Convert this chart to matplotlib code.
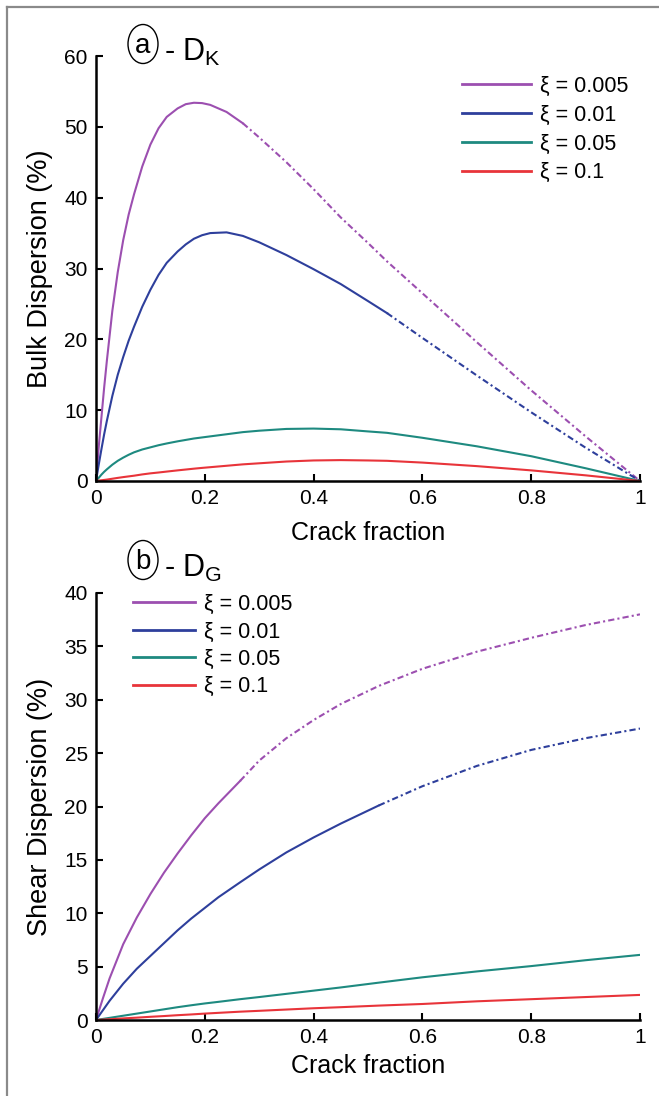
#Dispersion vs crack fraction for several xi values
#top panel: bulk (D_K), bottom panel: shear (D_G)
import matplotlib
matplotlib.use("Agg")
import matplotlib.pyplot as plt
from matplotlib.lines import Line2D
from matplotlib.patches import Ellipse
import matplotlib.ticker as ticker

plt.rcParams['font.family'] = ['Liberation Sans', 'DejaVu Sans']
plt.rcParams['mathtext.fontset'] = 'custom'
plt.rcParams['mathtext.rm'] = 'Liberation Sans'

labels = ["ξ = 0.005", "ξ = 0.01", "ξ = 0.05", "ξ = 0.1"]
colors = ["#9c4fb0", "#2e3f9c", "#1e8a80", "#e8343a"]
xtick_labels = ['0', '0.2', '0.4', '0.6', '0.8', '1']

# panel a - bulk dispersion
crack_a = [0, 0.005, 0.01, 0.015, 0.02, 0.03, 0.04, 0.05, 0.06, 0.07, 0.085, 0.1,
           0.115, 0.13, 0.15, 0.165, 0.18, 0.195, 0.21, 0.24, 0.27, 0.3, 0.35,
           0.4, 0.45, 0.5, 0.535, 0.6, 0.7, 0.8, 0.9, 1.0]
bulk_005 = [0, 4.8, 9, 13.2, 17, 24, 29.5, 34, 37.6, 40.5, 44.4, 47.5,
            49.8, 51.4, 52.6, 53.2, 53.4, 53.35, 53.1, 52.1, 50.5, 48.5, 45,
            41.2, 37.2, 33.6, 31.0, 26.5, 19.6, 12.8, 6.3, 0]
bulk_01 = [0, 2.3, 4.5, 6.6, 8.5, 12, 15, 17.5, 19.8, 21.8, 24.6, 27,
           29.1, 30.8, 32.4, 33.4, 34.2, 34.7, 35.0, 35.1, 34.6, 33.7, 31.9,
           29.9, 27.8, 25.4, 23.7, 20.2, 14.9, 9.7, 4.7, 0]
bulk_05 = [0, 0.45, 0.9, 1.3, 1.65, 2.3, 2.85, 3.3, 3.7, 4.05, 4.45, 4.75,
           5.05, 5.3, 5.6, 5.8, 6.0, 6.15, 6.3, 6.6, 6.9, 7.1, 7.35,
           7.4, 7.3, 7.0, 6.8, 6.1, 4.9, 3.5, 1.8, 0]
bulk_1 = [0, 0.05, 0.1, 0.15, 0.2, 0.32, 0.44, 0.55, 0.65, 0.75, 0.93, 1.08,
          1.2, 1.33, 1.5, 1.62, 1.74, 1.85, 1.95, 2.15, 2.35, 2.5, 2.75,
          2.9, 2.95, 2.9, 2.85, 2.6, 2.1, 1.5, 0.8, 0]
# where the solid part stops (None = solid everywhere)
split_a = [0.27, 0.535, None, None]

# panel b - shear dispersion
crack_b = [0, 0.0125, 0.025, 0.05, 0.075, 0.1, 0.125, 0.15, 0.175, 0.2, 0.225,
           0.265, 0.3, 0.35, 0.4, 0.45, 0.52, 0.6, 0.7, 0.8, 0.9, 1.0]
shear_005 = [0, 2.0, 3.9, 7.1, 9.6, 11.8, 13.8, 15.6, 17.3, 18.9, 20.3,
             22.4, 24.3, 26.4, 28.1, 29.6, 31.3, 32.9, 34.5, 35.8, 37.0, 38.0]
shear_01 = [0, 0.9, 1.8, 3.4, 4.8, 6.0, 7.2, 8.4, 9.5, 10.5, 11.5,
            12.9, 14.1, 15.7, 17.1, 18.4, 20.1, 21.9, 23.8, 25.3, 26.4, 27.3]
shear_05 = [0, 0.1, 0.2, 0.4, 0.6, 0.8, 1.0, 1.2, 1.38, 1.55, 1.7,
            1.95, 2.15, 2.45, 2.75, 3.05, 3.5, 4.0, 4.55, 5.05, 5.6, 6.1]
shear_1 = [0, 0.035, 0.07, 0.15, 0.22, 0.3, 0.37, 0.45, 0.52, 0.6, 0.67,
           0.78, 0.86, 0.98, 1.1, 1.2, 1.35, 1.5, 1.75, 1.95, 2.15, 2.35]
split_b = [0.265, 0.52, None, None]

W, H = 659, 1096
fig = plt.figure(figsize=(W / 100, H / 100), dpi=100)

ax1 = fig.add_axes([96 / W, 1 - 481 / H, 544 / W, 425 / H])
ax2 = fig.add_axes([96 / W, 1 - 1020 / H, 544 / W, 427 / H])


def draw(ax, x, series, splits):
    for y, c, s in zip(series, colors, splits):
        if s is None:
            ax.plot(x, y, color=c, lw=1.5)
        else:
            i = x.index(s)
            ax.plot(x[:i + 1], y[:i + 1], color=c, lw=1.5)
            ax.plot(x[i:], y[i:], color=c, lw=1.5, linestyle=(0, (3, 1.5, 1, 1.5)))


draw(ax1, crack_a, [bulk_005, bulk_01, bulk_05, bulk_1], split_a)
draw(ax2, crack_b, [shear_005, shear_01, shear_05, shear_1], split_b)

for ax, ymax, ystep, ylab, lpad in [(ax1, 60, 10, "Bulk Dispersion (%)", 9),
                                    (ax2, 40, 5, "Shear Dispersion (%)", 5)]:
    ax.set_xlim(0, 1)
    ax.set_ylim(0, ymax)
    ax.xaxis.set_major_locator(ticker.FixedLocator([0, 0.2, 0.4, 0.6, 0.8, 1]))
    ax.xaxis.set_major_formatter(ticker.FixedFormatter(xtick_labels))
    ax.yaxis.set_major_locator(ticker.MultipleLocator(ystep))
    ax.spines['top'].set_visible(False)
    ax.spines['right'].set_visible(False)
    ax.spines['left'].set_linewidth(1.8)
    ax.spines['bottom'].set_linewidth(1.8)
    ax.tick_params(direction='in', length=5, width=1.5, labelsize=15, pad=6)
    ax.set_xlabel("Crack fraction", fontsize=18, labelpad=lpad)
    ax.set_ylabel(ylab, fontsize=19.5, labelpad=8)

handles = [Line2D([], [], color=c, lw=2.0) for c in colors]
fig.legend(handles=handles, labels=labels,
           loc='upper left', bbox_to_anchor=(462 / W, 1 - 76 / H), frameon=False,
           fontsize=15.5, handlelength=3.2, handletextpad=0.4, labelspacing=0.36,
           borderpad=0, borderaxespad=0)
fig.legend(handles=handles, labels=labels,
           loc='upper left', bbox_to_anchor=(133 / W, 1 - 594 / H), frameon=False,
           fontsize=15.5, handlelength=2.9, handletextpad=0.4, labelspacing=0.3,
           borderpad=0, borderaxespad=0)

# panel tags: circled letter + "- D_K" / "- D_G"
for letter, sub, cy in [("a", "K", 44), ("b", "G", 560)]:
    fig.add_artist(Ellipse((143 / W, 1 - cy / H), 30 / W, 39 / H,
                           transform=fig.transFigure, fc='white', ec='black', lw=1.0))
    fig.text(143 / W, 1 - (cy + 2) / H, letter, fontsize=20, ha='center', va='center')
    fig.text(164 / W, 1 - (cy + 17) / H, "- D$_\\mathregular{%s}$" % sub,
             fontsize=22, ha='left', va='baseline')

# grey frame at top and left
fig.add_artist(Line2D([7 / W, 1], [1 - 7 / H, 1 - 7 / H], transform=fig.transFigure,
                      color='#8a8a8a', lw=1.6))
fig.add_artist(Line2D([7 / W, 7 / W], [0, 1 - 7 / H], transform=fig.transFigure,
                      color='#8a8a8a', lw=1.6))

plt.savefig("out.png", dpi=100)
